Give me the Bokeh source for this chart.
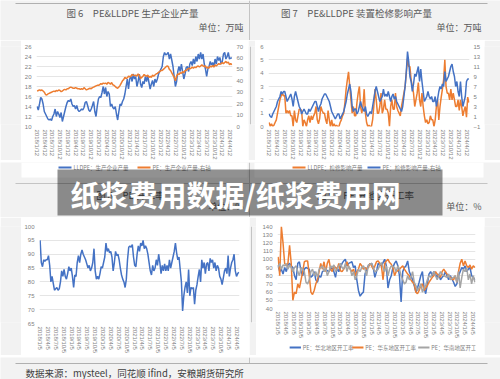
import datetime as dt
import numpy as np
from bokeh.plotting import figure
from bokeh.models import Range1d, LinearAxis, FixedTicker
from bokeh.layouts import column, row
from bokeh.embed import file_html
from bokeh.resources import INLINE
from bokeh.core.properties import value

# ---------------- data ----------------
q_labels_12 = [f"{y}/{m}/12" for y in range(2018, 2025) for m in (1, 4, 7, 10)][:26]
q_labels_5 = [f"{y}/{m}/5" for y in range(2018, 2025) for m in (1, 4, 7, 10)][:26]

lldpe_prod = [
    14.0, 13.3, 14.5, 15.8, 15.5, 14.5, 13.0,
    12.5, 12.0, 11.5, 11.3, 11.5, 11.2,
    12.0, 12.5, 13.5, 12.0, 13.0, 12.5, 11.8,
    12.8, 11.0, 12.0, 13.0, 14.0, 14.8,
    15.2, 15.0, 15.5, 14.5, 14.0, 14.2, 13.5,
    14.2, 13.3, 13.0, 13.2, 13.5, 13.3,
    13.8, 14.8, 15.0, 14.2, 13.3, 13.0, 13.5,
    14.2, 15.0, 13.0, 12.0, 14.0, 15.5,
    16.0, 15.8, 16.8, 18.0, 16.5, 17.8, 16.0,
    17.0, 16.5, 14.0, 14.5, 13.8, 13.5,
    14.0, 12.5, 11.3, 13.0, 14.5, 14.2, 15.0,
    15.5, 16.5, 18.0, 19.5, 17.5, 19.5,
    20.0, 19.0, 20.5, 19.5, 20.0, 18.0, 19.0,
    20.5, 18.5, 17.8, 19.0, 18.5, 20.0,
    19.0, 20.2, 18.8, 17.5, 18.5, 19.2, 18.0,
    19.5, 18.8, 19.5, 20.5, 21.0, 21.5,
    22.0, 24.0, 24.8, 24.3, 24.5, 24.8, 23.5,
    24.5, 23.3, 22.0, 20.0, 18.0, 19.0,
    21.0, 22.0, 21.0, 22.5, 21.0, 19.5, 20.5,
    21.8, 22.0, 21.0, 22.5, 23.0, 22.2,
    23.5, 22.5, 24.0, 23.0, 24.5, 23.5, 24.8,
    23.5, 24.5, 22.5, 21.5, 20.0, 21.5,
    22.0, 23.0, 22.3, 22.8, 22.0, 23.5, 22.5,
    24.0, 23.2, 23.8, 22.5, 23.0, 24.5,
    24.8, 23.5, 24.0, 24.8, 23.5, 23.7, 23.7]
pe_prod = [
    31, 31.5, 32, 31.5, 32, 31, 30,
    28, 27.5, 28.5, 29, 29.5, 30,
    30.5, 31, 30.5, 31.5, 31, 32, 31.5,
    30.5, 31, 32, 32.5, 32, 33,
    33, 34, 34.5, 34, 33.5, 33.5, 34,
    33.5, 33, 33, 32.5, 33, 32.5,
    34, 33, 32, 32.5, 33, 33.5, 33,
    34, 34.5, 35, 35.5, 36, 36,
    36.5, 37.5, 37, 38, 37.5, 38, 37,
    38.5, 38, 37, 38.5, 36.5, 36,
    35, 34, 33.5, 34.5, 36, 38, 40,
    41, 43, 42, 42.5, 44, 43.5,
    44, 45.5, 45, 44.5, 45, 44, 46,
    45, 42, 43, 44, 45.5, 44.5,
    44, 45, 43, 44, 43, 45, 44,
    45, 46, 46.5, 47.5, 48, 49,
    49, 50, 51, 52, 53, 52.5, 50,
    49, 47, 45, 43, 40, 44,
    46, 45.5, 47, 46.5, 48, 47, 49,
    49, 50, 51, 50.5, 51, 52,
    51, 52, 51.5, 52.5, 53, 52, 53,
    54, 53, 52.5, 53, 51, 52,
    51, 53, 52, 53.5, 52, 54, 53,
    54, 55, 54.5, 55, 56, 55,
    56, 57, 55.5, 56.5, 54, 55, 54]

lldpe_maint = [
    0.3, 0.0, 0.2, 0.0, 0.1, 0.3, 0.5,
    1.0, 1.5, 2.0, 2.3, 2.5, 2.3,
    2.3, 1.0, 1.2, 1.0, 1.2, 0.8, 0.8,
    0.0, 1.2, 0.5, 0.3, 0.8, 1.3,
    1.3, 1.2, 0.0, 0.5, 0.3, 0.0, 0.5,
    0.8, 0.3, 0.8, 0.5, 0.8, 1.0,
    1.5, 0.5, 0.2, 0.6, 1.5, 1.2, 1.0,
    1.0, 0.5, 0.2, 1.2, 0.5, 0.0,
    0.5, 0.0, 0.2, 0.0, 0.1, 0.0, 0.0,
    0.3, 0.5, 0.8, 1.0, 1.8, 2.8,
    3.5, 4.1, 3.0, 2.0, 1.0, 1.5, 0.8,
    0.8, 1.8, 2.5, 3.0, 1.5, 1.0,
    1.5, 2.8, 1.0, 0.3, 0.0, 0.1, 0.0,
    0.0, 0.5, 1.5, 2.8, 2.0, 1.0,
    1.0, 1.5, 2.5, 1.0, 1.3, 2.0, 1.3,
    1.3, 1.0, 0.0, 1.5, 2.0, 1.3,
    1.3, 2.5, 1.5, 1.2, 1.0, 0.8, 1.5,
    2.0, 2.5, 3.0, 4.0, 5.1, 4.5,
    4.5, 3.5, 3.0, 2.5, 1.5, 2.0, 2.5,
    3.3, 2.0, 1.5, 2.5, 1.5, 0.8,
    0.3, 0.5, 0.2, 0.3, 0.8, 0.5, 0.5,
    0.0, 0.5, 1.5, 2.0, 0.5, 1.5,
    2.2, 2.8, 3.5, 5.0, 3.0, 2.5, 2.5,
    2.0, 2.8, 2.0, 2.5, 2.0, 1.5,
    1.5, 2.0, 1.2, 2.0, 1.5, 0.8, 1.2,
    1.5, 0.7, 2.2, 1.8]
pe_maint = [
    1.5, 1.0, 0.8, 1.5, 2.0, 2.5, 3.0,
    4.0, 4.5, 5.0, 6.0, 5.5, 6.0,
    6.0, 5.0, 4.0, 4.5, 5.0, 5.5, 4.5,
    3.0, 5.0, 6.0, 5.0, 4.0, 3.0,
    2.5, 1.5, 2.0, 2.5, 2.0, 1.5, 1.5,
    2.5, 2.0, 2.5, 3.0, 3.5, 4.0,
    4.0, 3.0, 2.0, 3.0, 3.5, 4.5, 5.0,
    5.5, 5.5, 5.0, 4.5, 4.0, 3.0,
    2.0, 1.5, 1.0, 0.5, 1.0, 1.5, 1.5,
    0.5, 1.0, 1.5, 2.0, 3.0, 4.0,
    5.5, 6.5, 7.5, 6.0, 3.0, 2.0, 2.5,
    2.5, 1.5, 2.0, 3.0, 4.0, 3.0,
    2.5, 2.0, 3.0, 1.5, 1.0, 1.5, 2.0,
    1.5, 3.0, 4.5, 6.0, 7.0, 6.0,
    5.0, 4.0, 4.5, 5.0, 6.5, 5.0, 5.5,
    5.0, 6.0, 5.0, 4.0, 5.0, 5.5,
    4.5, 5.0, 4.0, 3.5, 3.0, 2.5, 2.0,
    3.0, 5.0, 7.0, 10.0, 14.0, 12.0,
    9.0, 8.0, 6.0, 7.5, 9.5, 9.0, 10.0,
    11.0, 8.0, 10.5, 8.0, 6.0, 4.0,
    4.5, 5.0, 6.0, 5.0, 4.5, 5.0, 4.0,
    4.0, 5.0, 3.0, 4.5, 6.0, 7.0,
    6.5, 7.5, 7.0, 10.0, 8.0, 8.5, 9.0,
    10.0, 11.0, 11.5, 10.0, 9.0, 7.0,
    8.0, 6.0, 5.0, 8.0, 5.0, 3.0, 4.0,
    5.0, 8.0, 8.5, 8.5]

pe_rate = [
    95, 87, 85.5, 88, 87.5, 88, 88, 89.5, 86, 80, 82, 79.5, 77, 77.5, 78, 77, 77.5,
    80, 84, 82, 84.5, 82, 81, 83, 85.5, 84, 85, 82, 78, 82.5, 82, 87, 89.5, 87, 90,
    91.5, 90, 89, 88, 86.5, 85, 86, 84, 85, 87, 92, 84, 81, 82, 81, 83, 85.5, 85, 87,
    89, 94, 91, 92, 90.5, 91, 89, 84, 87, 91, 89.5, 90, 88, 85, 82.5, 81, 80, 78, 81,
    88, 92.5, 93, 92.5, 93.5, 89, 86, 85.5, 90, 93, 91, 94, 93, 95, 92, 93, 92, 90, 87,
    84, 82.5, 86, 84, 85, 88, 86, 90, 87, 83, 86, 84, 86.5, 84, 86, 84, 88, 85, 87, 89,
    91, 94, 90.5, 88, 89, 84.5, 80, 69.5, 75, 78, 80, 76, 84.5, 75, 78, 77.5, 78, 72,
    77, 79, 82, 84.5, 80, 88, 85, 87, 83, 86.5, 87, 84, 88.5, 87, 88, 85, 87, 84, 86,
    85, 82, 81, 79, 81.5, 84, 85, 83, 89.5, 82, 85, 87, 88, 90, 84, 82, 83, 83.5]

rate_north = [
    93, 85, 88, 82, 90, 85, 93, 95, 92, 90, 80, 75, 95, 97, 85, 80, 88, 90, 89, 88,
    78, 80, 85, 75, 72, 80, 78, 85, 86, 88, 86, 85, 88, 90, 85, 78, 90, 85, 90, 95,
    98, 100, 92, 95, 96, 97, 90, 92, 75, 62, 55, 58, 60, 82, 88, 92, 94, 95, 90, 78,
    85, 95, 93, 92, 96, 100, 92, 65, 75, 80, 90, 95, 98, 92, 80, 48, 85, 90, 92, 98,
    85, 80, 75, 68, 60, 65, 72, 80, 85, 65, 58, 70, 82, 85, 80, 85, 82, 78, 82, 75,
    78, 80, 85, 80, 75, 80, 76, 72, 67, 70, 80, 85, 90, 88, 92, 85, 88, 90, 80, 78, 75]
rate_east = [
    103, 80, 140, 120, 95, 92, 95, 117, 95, 50, 60, 58, 70, 65, 75, 85, 97, 98, 98, 80,
    60, 57, 62, 70, 75, 85, 95, 88, 97, 85, 95, 100, 88, 85, 92, 90, 88, 95, 86, 85,
    88, 92, 97, 90, 88, 85, 88, 80, 85, 88, 95, 92, 88, 90, 88, 90, 95, 92, 88, 92,
    97, 98, 95, 92, 75, 95, 98, 100, 96, 94, 90, 80, 85, 86, 88, 90, 92, 88, 85, 82,
    80, 75, 72, 70, 60, 58, 62, 68, 70, 62, 65, 68, 72, 75, 78, 80, 85, 82, 80, 78,
    85, 88, 85, 82, 80, 78, 76, 75, 80, 72, 85, 95, 100, 92, 98, 92, 90, 93, 88, 92, 90]
rate_south = [
    90, 95, 88, 93, 92, 95, 88, 93, 90, 85, 90, 92, 85, 80, 90, 88, 85, 72, 70, 75,
    85, 88, 80, 85, 78, 88, 90, 92, 85, 90, 80, 85, 92, 90, 93, 85, 88, 92, 95, 90,
    88, 95, 85, 92, 88, 80, 85, 75, 80, 88, 85, 90, 92, 88, 80, 93, 94, 95, 90, 85,
    86, 88, 93, 96, 90, 85, 92, 80, 88, 92, 91, 90, 85, 92, 88, 80, 75, 70, 72, 80,
    75, 78, 85, 72, 68, 62, 65, 70, 60, 65, 68, 75, 80, 78, 82, 85, 80, 75, 80, 85,
    82, 80, 79, 78, 82, 75, 77, 78, 80, 72, 85, 65, 78, 88, 85, 90, 75, 82, 70, 80, 72]

titles = ["图 6　PE&LLDPE 生产企业产量", "图 7　PE&LLDPE 装置检修影响产量",
          "图 8　PE 开工率", "图 9　PE 分地区开工率"]
units = ["单位：万吨", "单位：万吨", "单位：%", "单位：%"]
legend6 = ["LLDPE：生产企业产量", "PE：生产企业产量-右轴"]
legend7 = ["LLDPE：检修影响产量", "PE：检修影响产量-右轴"]
legend9 = ["PE：华北地区开工率", "PE：华东地区开工率", "PE：华南地区开工率"]
source_text = "数据来源：mysteel，同花顺 ifind，安粮期货研究所"
banner_text = "纸浆费用数据/纸浆费用网"

# ---------------- styling ----------------
PAGE = "#f2f2f2"
BLUE = "#4472c4"
ORANGE = "#ed7d31"
GREY = "#a5a5a5"
RULE = "#c4c4c4"
CJK = "Noto Sans CJK SC"
TXT = "#595959"
LEG = "#7f7f7f"
ORIGIN = dt.date(2018, 1, 1)


def day(s):
    y, m, d = map(int, s.split("/"))
    return (dt.date(y, m, d) - ORIGIN).days


def canvas(w, h, x0, y0, bg=PAGE):
    p = figure(width=w, height=h, x_range=Range1d(x0, x0 + w), y_range=Range1d(y0 + h, y0),
               output_backend="svg", toolbar_location=None, min_border=0,
               x_axis_location=None, y_axis_location=None, title=None,
               background_fill_color=bg, border_fill_color=bg, outline_line_color=None)
    p.grid.visible = False
    return p


def vline(p, x, y0, y1):
    p.segment(x0=[x], y0=[y0], x1=[x], y1=[y1], line_color=RULE, line_width=1)


def hline(p, y, x0, x1, color=RULE):
    p.segment(x0=[x0], y0=[y], x1=[x1], y1=[y], line_color=color, line_width=1)


def txt(p, x, y, s, size, align="left", color=TXT, style="normal"):
    p.text(x=[x], y=[y], text=[s], text_font=value(CJK), text_font_size=size,
           text_color=color, text_align=align, text_baseline="middle", text_font_style=style)


def key(p, x, y, color, label):
    p.segment(x0=[x], y0=[y], x1=[x + 13], y1=[y], line_color=color, line_width=2)
    txt(p, x + 15, y, label, "5.5px", "left", LEG)


def style_axis(ax, standoff):
    ax.axis_line_color = None
    ax.major_tick_line_color = None
    ax.minor_tick_line_color = None
    ax.major_tick_out = 0
    ax.major_tick_in = 0
    ax.minor_tick_out = 0
    ax.minor_tick_in = 0
    ax.major_label_text_font_size = "6px"
    ax.major_label_text_color = "#7f7f7f"
    ax.major_label_text_font = "Liberation Sans"
    ax.major_label_standoff = standoff


def chart(fw, fh, ml, mr, mt, mb, ylo, yhi, ystep, labels, start, end):
    xs = [day(l) for l in labels]
    p = figure(frame_width=fw, frame_height=fh, x_range=Range1d(day(start) - 7, day(end) + 7),
               y_range=Range1d(ylo, yhi), output_backend="svg", toolbar_location=None,
               min_border_left=ml, min_border_right=mr, min_border_top=mt, min_border_bottom=mb,
               background_fill_color="white", border_fill_color="white", outline_line_color=None,
               title=None)
    p.xaxis.ticker = FixedTicker(ticks=xs)
    p.xaxis.major_label_overrides = {x: l for x, l in zip(xs, labels)}
    p.xaxis.major_label_orientation = "vertical"
    p.yaxis.ticker = FixedTicker(ticks=[float(v) for v in np.arange(ylo, yhi + ystep / 2, ystep)])
    style_axis(p.xaxis[0], 3)
    style_axis(p.yaxis[0], 5)
    p.xgrid.visible = False
    p.ygrid.grid_line_color = "#dedede"
    p.ygrid.grid_line_width = 0.8
    return p


def dates(start, end, n):
    return np.linspace(day(start), day(end), n)


# ---------------- header ----------------
header = canvas(500, 40, 0, 0)
hline(header, 3, 15, 487, "#b0b0b0")
vline(header, 249, 0, 40)
txt(header, 132, 12, titles[0], "9.5px", "center")
txt(header, 243, 27, units[0], "9px", "right")
txt(header, 356, 12, titles[1], "9.5px", "center")
txt(header, 481, 27, units[1], "9px", "right")

# ---------------- fig 6 ----------------
c1 = chart(196, 80, 14, 16, 6, 34, 10, 26, 2, q_labels_12, "2018/1/12", "2024/5/3")
c1.extra_y_ranges = {"right": Range1d(0, 70)}
ax = LinearAxis(y_range_name="right", ticker=FixedTicker(ticks=list(range(0, 71, 10))))
style_axis(ax, 4)
c1.add_layout(ax, "right")
c1.line(dates("2018/1/12", "2024/5/3", len(lldpe_prod)), lldpe_prod, line_color=BLUE, line_width=1.5)
c1.line(dates("2018/1/12", "2024/5/3", len(pe_prod)), pe_prod, line_color=ORANGE, line_width=1.5,
        y_range_name="right")

# ---------------- fig 7 ----------------
c2 = chart(201, 80, 13, 15, 5, 35, 0, 6, 1, q_labels_12, "2018/1/12", "2024/5/3")
c2.extra_y_ranges = {"right": Range1d(-1, 15)}
ax = LinearAxis(y_range_name="right", ticker=FixedTicker(ticks=list(range(-1, 16, 2))))
style_axis(ax, 4)
c2.add_layout(ax, "right")
c2.line(dates("2018/1/12", "2024/5/3", len(lldpe_maint)), lldpe_maint, line_color=ORANGE, line_width=1.5)
c2.line(dates("2018/1/12", "2024/5/3", len(pe_maint)), pe_maint, line_color=BLUE, line_width=1.5,
        y_range_name="right")

g1 = canvas(21, 120, 0, 40)
m1 = canvas(7, 120, 247, 40)
vline(m1, 249, 40, 160)
g2 = canvas(17, 120, 483, 40)

# ---------------- band with legends and banner ----------------
band = canvas(500, 55, 0, 160)
band.quad(left=[21, 254], right=[247, 483], top=[160, 160], bottom=[175, 175],
          fill_color="white", line_color=None)
key(band, 58, 165, BLUE, legend6[0])
key(band, 137, 165, ORANGE, legend6[1])
key(band, 292, 165, ORANGE, legend7[0])
key(band, 367, 165, BLUE, legend7[1])
hline(band, 181, 15, 487)
vline(band, 249, 160, 215)
txt(band, 130, 192, titles[2], "9.5px", "center")
txt(band, 365, 192, titles[3], "9.5px", "center")
txt(band, 243, 204, units[2], "9px", "right")
txt(band, 481, 204, units[3], "9px", "right")
band.quad(left=[57], right=[442], top=[167], bottom=[213], fill_color="black",
          fill_alpha=0.43, line_color=None)
txt(band, 70, 191, banner_text, "29px", "left", "white", "bold")

# ---------------- fig 8 ----------------
c3 = chart(200, 97, 16, 10, 9, 32, 65, 100, 5, q_labels_5, "2018/1/5", "2024/4/26")
c3.line(dates("2018/1/5", "2024/4/26", len(pe_rate)), pe_rate, line_color=BLUE, line_width=1.5)

# ---------------- fig 9 ----------------
c4 = chart(198, 82, 21, 9, 9, 31, 40, 140, 10, q_labels_5, "2018/1/5", "2024/4/26")
c4.line(dates("2018/1/5", "2024/4/26", len(rate_north)), rate_north, line_color=BLUE, line_width=1.5)
c4.line(dates("2018/1/5", "2024/4/26", len(rate_east)), rate_east, line_color=ORANGE, line_width=1.5)
c4.line(dates("2018/1/5", "2024/4/26", len(rate_south)), rate_south, line_color=GREY, line_width=1.5)
leg4 = canvas(228, 16, 254, 337, "white")
key(leg4, 268, 343, BLUE, legend9[0])
key(leg4, 340, 343, ORANGE, legend9[1])
key(leg4, 416, 343, GREY, legend9[2])

g3 = canvas(21, 138, 0, 215)
m2 = canvas(7, 138, 247, 215)
vline(m2, 249, 215, 353)
g4 = canvas(18, 138, 482, 215)

# ---------------- footer ----------------
footer = canvas(500, 26, 0, 353)
vline(footer, 249, 353, 359)
hline(footer, 359, 15, 487, "#b0b0b0")
txt(footer, 25, 368, source_text, "9.5px", "left", "#404040")

layout = column(
    header,
    row(g1, c1, m1, c2, g2, spacing=0),
    band,
    row(g3, c3, m2, column(c4, leg4, spacing=0), g4, spacing=0),
    footer,
    spacing=0,
)

open("out.html", "w").write(file_html(layout, INLINE))
